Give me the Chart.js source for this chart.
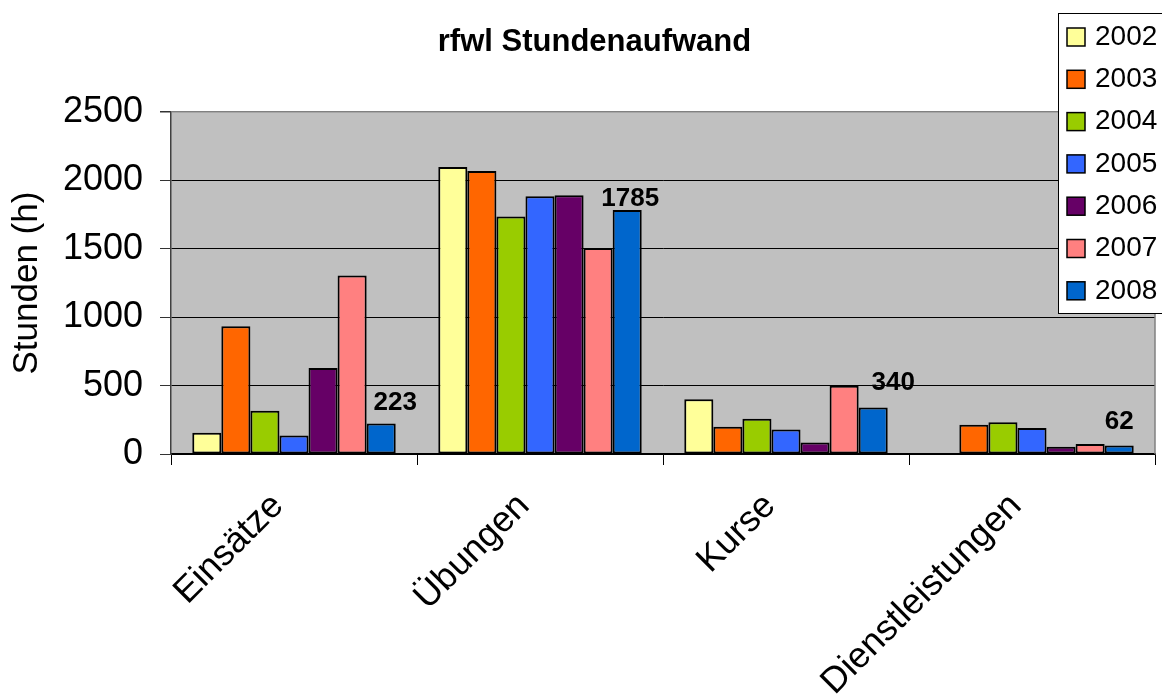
<!DOCTYPE html>
<html><head><meta charset="utf-8">
<script src="https://cdn.jsdelivr.net/npm/chart.js@4.4.1/dist/chart.umd.min.js"></script>
<style>html,body{margin:0;padding:0;background:#fff;overflow:hidden}#wrap{width:1162px;height:697px;position:relative}</style>
</head><body><div id="wrap"><canvas id="c" width="1162" height="697"></canvas></div>
<script>
// ---- data ----
const categories = ['Einsätze', 'Übungen', 'Kurse', 'Dienstleistungen'];
const years = ['2002', '2003', '2004', '2005', '2006', '2007', '2008'];
const v2002 = [155, 2100, 400, null];
const v2003 = [935, 2070, 199, 214];
const v2004 = [316, 1737, 257, 233];
const v2005 = [136, 1885, 179, 190];
const v2006 = [629, 1893, 85, 53];
const v2007 = [1305, 1506, 500, 73];
const v2008 = [223, 1785, 340, 62];
const yTicks = [0, 500, 1000, 1500, 2000, 2500];
const chartTitle = 'rfwl Stundenaufwand';
const yTitle = 'Stunden (h)';

// ---- styling ----
const colors = ['#FFFF99', '#FF6600', '#99CC00', '#3366FF', '#660066', '#FF8080', '#0066CC'];
const FONT = "'Liberation Sans', Arial, sans-serif";
const seriesValues = [v2002, v2003, v2004, v2005, v2006, v2007, v2008];

const datasets = years.map((y, i) => ({
  label: y,
  data: seriesValues[i],
  backgroundColor: colors[i],
  borderColor: '#000',
  borderWidth: 2,
  borderSkipped: false,
  categoryPercentage: 0.827,
  barPercentage: 1.0
}));

const plotBg = {
  id: 'plotBg',
  beforeDraw(chart) {
    const a = chart.chartArea, ctx = chart.ctx;
    ctx.save();
    ctx.fillStyle = '#C0C0C0';
    ctx.fillRect(a.left, a.top, a.right - a.left, a.bottom - a.top);
    ctx.restore();
  },
  afterDraw(chart) {
    const a = chart.chartArea, ctx = chart.ctx;
    ctx.save();
    ctx.strokeStyle = '#808080';
    ctx.lineWidth = 1.5;
    ctx.beginPath();
    ctx.moveTo(a.right, a.top);
    ctx.lineTo(a.right, a.bottom);
    ctx.stroke();
    ctx.restore();
  }
};

const lastLabels = {
  id: 'lastLabels',
  afterDatasetsDraw(chart, args, opts) {
    const di = chart.data.datasets.length - 1;
    const meta = chart.getDatasetMeta(di);
    const ctx = chart.ctx;
    ctx.save();
    ctx.font = 'bold 26px ' + FONT;
    ctx.fillStyle = '#000';
    ctx.textAlign = 'center';
    ctx.textBaseline = 'alphabetic';
    meta.data.forEach((bar, i) => {
      const v = chart.data.datasets[di].data[i];
      if (v == null) return;
      const n = opts.nudge[i] || [0, 0];
      ctx.fillText(String(v), bar.x + n[0], bar.y - n[1]);
    });
    ctx.restore();
  }
};

const boxLegend = {
  id: 'boxLegend',
  afterDraw(chart, args, opts) {
    const ctx = chart.ctx;
    const ds = chart.data.datasets;
    ctx.save();
    ctx.fillStyle = '#fff';
    ctx.fillRect(opts.x, opts.y, opts.w, opts.h);
    ctx.strokeStyle = '#000';
    ctx.lineWidth = 1;
    ctx.strokeRect(opts.x + 0.5, opts.y + 0.5, opts.w, opts.h);
    ctx.font = opts.fontSize + 'px ' + FONT;
    ctx.textBaseline = 'middle';
    ctx.textAlign = 'left';
    ds.forEach((d, i) => {
      const cy = opts.y + opts.firstRow + i * opts.rowGap;
      const s = opts.box;
      ctx.fillStyle = d.backgroundColor;
      ctx.fillRect(opts.x + opts.boxX, cy - s / 2, s, s);
      ctx.lineWidth = 1.5;
      ctx.strokeStyle = '#000';
      ctx.strokeRect(opts.x + opts.boxX, cy - s / 2, s, s);
      ctx.fillStyle = '#000';
      ctx.fillText(d.label, opts.x + opts.textX, cy);
    });
    ctx.restore();
  }
};

new Chart(document.getElementById('c'), {
  type: 'bar',
  data: { labels: categories, datasets },
  plugins: [plotBg, lastLabels, boxLegend],
  options: {
    responsive: false,
    animation: false,
    devicePixelRatio: 1,
    layout: { padding: { left: 34, right: 7, top: 0, bottom: 0 } },
    plugins: {
      legend: { display: false },
      tooltip: { enabled: false },
      title: {
        display: true,
        text: chartTitle,
        color: '#000',
        font: { family: FONT, size: 31, weight: 'bold' },
        padding: { top: 24, bottom: 51 }
      },
      lastLabels: { nudge: [[14, 13.5], [3, 4], [20, 18], [0, 17]] },
      boxLegend: { x: 1058, y: 13, w: 120, h: 300, firstRow: 24, rowGap: 42.3, box: 18, boxX: 9, textX: 37, fontSize: 28 }
    },
    scales: {
      x: {
        grid: { offset: true, drawOnChartArea: false, tickLength: 11, color: '#000', lineWidth: 1 },
        border: { color: '#000', width: 1.5 },
        ticks: {
          color: '#000',
          font: { family: FONT, size: 36 },
          minRotation: 45, maxRotation: 45,
          labelOffset: -16,
          padding: 20,
          autoSkip: false
        },
        afterFit(s) { s.height = 243; }
      },
      y: {
        min: 0, max: 2500,
        afterBuildTicks(s) { s.ticks = yTicks.map(v => ({ value: v })); },
        grid: {
          color: ctx => (ctx.tick && ctx.tick.value === 2500) ? '#808080' : '#000',
          tickColor: '#333',
          tickLength: 11,
          lineWidth: ctx => (ctx.tick && ctx.tick.value === 2500) ? 1.5 : 1
        },
        border: { color: '#404040', width: 1.5 },
        ticks: {
          color: '#000', font: { family: FONT, size: 36 }, padding: 17,
          callback: v => String(v)
        },
        title: {
          display: true, text: yTitle, color: '#000',
          font: { family: FONT, size: 35 },
          padding: { top: -27.5, bottom: 0 }
        },
        afterFit(s) { s.width = 137; }
      }
    }
  }
});
</script>
</body></html>
